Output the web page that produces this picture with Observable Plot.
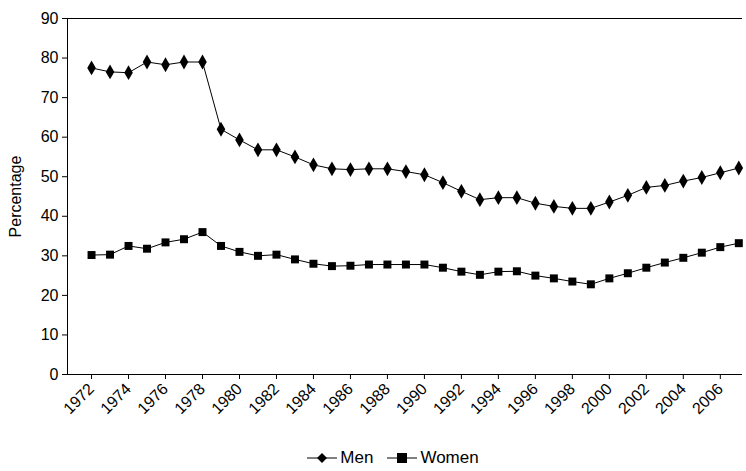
<!DOCTYPE html>
<html><head><meta charset="utf-8">
<script src="https://cdn.jsdelivr.net/npm/d3@7"></script>
<script src="https://cdn.jsdelivr.net/npm/@observablehq/plot@0.6"></script>
<style>
body{margin:0;background:#fff;font-family:Arial,"Liberation Sans",sans-serif}
#legend{display:flex;justify-content:center;gap:14px;font-size:17px;margin-top:8px;margin-left:40px}
#legend span{display:flex;align-items:center;gap:3px}
</style></head><body>
<div id="chart"></div>
<div id="legend"></div>
<script>
const YEARS = d3.range(1972, 2008);
const MEN = [77.5,76.5,76.3,79,78.3,79,79,62,59.3,56.8,56.8,55,53,52,51.8,52,52,51.3,50.5,48.5,46.3,44.2,44.7,44.7,43.3,42.5,42,42,43.6,45.3,47.3,47.8,48.9,49.8,51,52.2];
const WOMEN = [30.2,30.3,32.5,31.8,33.4,34.2,36,32.5,31,30,30.3,29.1,28,27.4,27.5,27.8,27.8,27.8,27.8,27,26,25.2,26,26.1,25,24.3,23.5,22.8,24.3,25.6,27,28.3,29.5,30.8,32.2,33.2];
const X_TICKS = d3.range(1972, 2007, 2);

const rows = s => YEARS.map((y, i) => ({year: y, value: s[i]}));
const men = rows(MEN), women = rows(WOMEN);

const chart = Plot.plot({
  width: 746, height: 440,
  marginLeft: 67, marginTop: 18, marginBottom: 66, marginRight: 4,
  style: {fontSize: "16px", fontFamily: "Arial, 'Liberation Sans', sans-serif"},
  x: {domain: [1970.7, 2007.2], ticks: X_TICKS, tickFormat: "d", tickRotate: -45, label: null, tickSize: 5},
  y: {domain: [0, 90], ticks: d3.range(0, 91, 10), label: "Percentage", labelAnchor: "center", labelArrow: "none", labelOffset: 58, tickSize: 5},
  marks: [
    Plot.ruleY([0, 90], {stroke: "#000"}),
    Plot.ruleX([1970.7], {stroke: "#000"}),
    Plot.line(men, {x: "year", y: "value", stroke: "#000", strokeWidth: 1}),
    Plot.dot(men, {x: "year", y: "value", symbol: "diamond", fill: "#000", r: 4.5}),
    Plot.line(women, {x: "year", y: "value", stroke: "#000", strokeWidth: 1}),
    Plot.dot(women, {x: "year", y: "value", symbol: "square", fill: "#000", r: 4.5})
  ]
});
document.getElementById("chart").appendChild(chart);

const leg = document.getElementById("legend");
leg.innerHTML =
  `<span><svg width="30" height="12"><line x1="0" x2="30" y1="6" y2="6" stroke="#000"/><path d="M15 1L20 6L15 11L10 6Z"/></svg>Men</span>` +
  `<span><svg width="30" height="12"><line x1="0" x2="30" y1="6" y2="6" stroke="#000"/><rect x="10" y="1" width="10" height="10"/></svg>Women</span>`;
</script>
</body></html>
